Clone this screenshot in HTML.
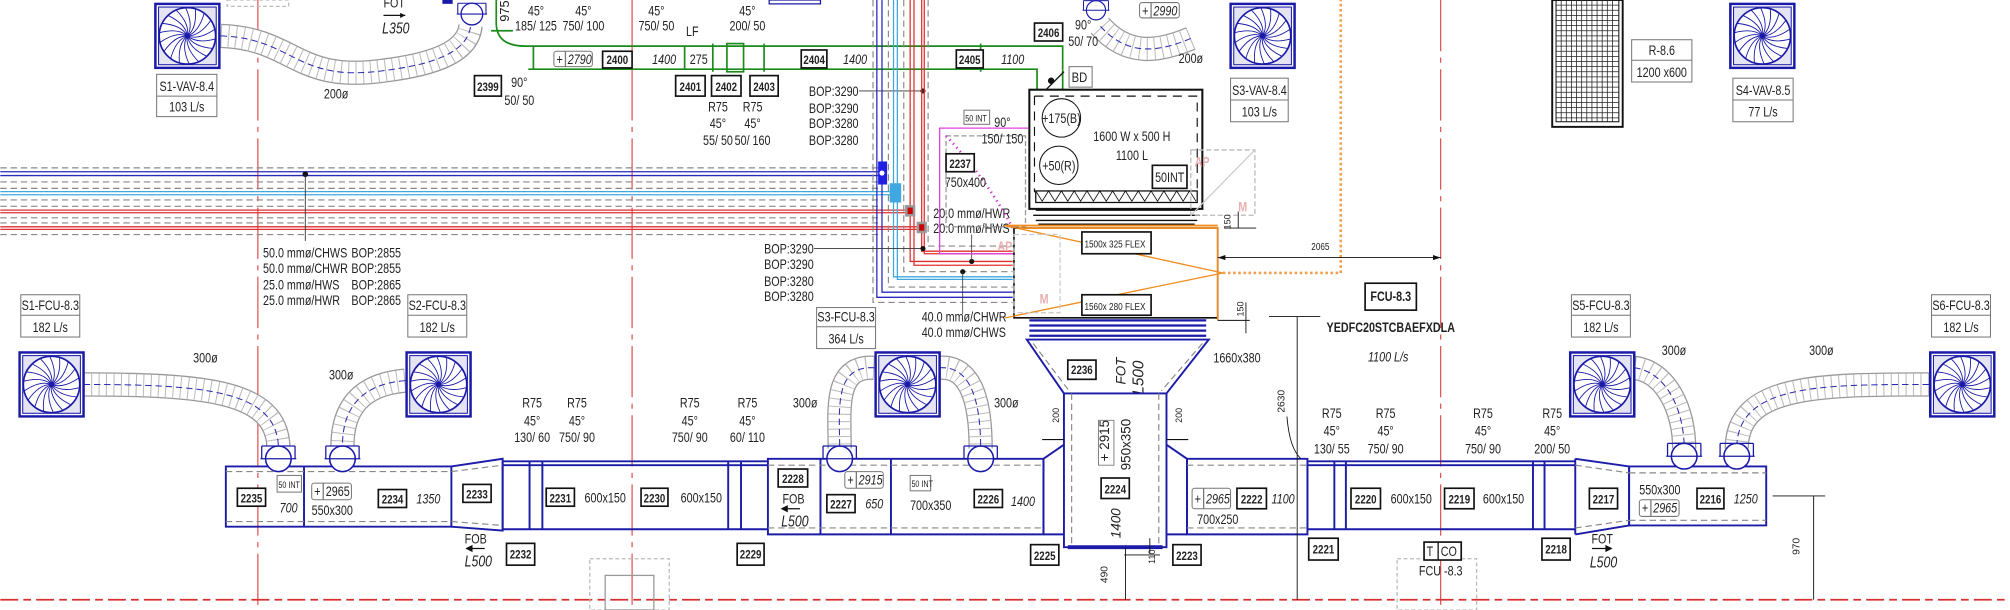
<!DOCTYPE html>
<html><head><meta charset="utf-8"><style>
html,body{margin:0;padding:0;background:#fff;overflow:hidden}
svg{display:block}
text{font-family:"Liberation Sans Narrow","Liberation Sans",sans-serif;font-size:10.5px;fill:#222}
text:not([transform]){transform-box:fill-box;transform-origin:left center;transform:scaleX(0.8)}
text.m:not([transform]),text.b:not([transform]){transform-origin:center center}
.b{font-weight:bold;font-size:9.5px;text-anchor:middle}
.m{text-anchor:middle}
.i{font-style:italic}
.bx{fill:#fff;stroke:#111;stroke-width:1.3}
.lb{fill:#fff;stroke:#777;stroke-width:0.8}
.d{stroke:#1c1ca8;stroke-width:1.5;fill:none}
.gd{stroke:#888;stroke-width:0.9;fill:none;stroke-dasharray:5 3}
.g{stroke:#1a8a1a;stroke-width:1.3;fill:none}
</style></head><body>
<svg width="2010" height="610" viewBox="0 0 1568 476" xmlns="http://www.w3.org/2000/svg">
<defs>
<symbol id="df" viewBox="0 0 52 52">
<rect x="1" y="1" width="50" height="50" fill="#fff" stroke="#1a1aa8" stroke-width="2"/>
<rect x="3.5" y="3.5" width="45" height="45" fill="#e4e4f2" stroke="#1a1aa8" stroke-width="0.8"/>
<circle cx="26" cy="26" r="22" fill="#fff" stroke="#1a1aa8" stroke-width="1.3"/>
<g stroke="#1a1aa8" stroke-width="0.7" fill="none" transform="translate(26,26)">
<path id="sp" d="M0,0 Q9,-3 13,-17.5"/>
<use href="#sp" transform="rotate(20)"/><use href="#sp" transform="rotate(40)"/><use href="#sp" transform="rotate(60)"/><use href="#sp" transform="rotate(80)"/><use href="#sp" transform="rotate(100)"/><use href="#sp" transform="rotate(120)"/><use href="#sp" transform="rotate(140)"/><use href="#sp" transform="rotate(160)"/><use href="#sp" transform="rotate(180)"/><use href="#sp" transform="rotate(200)"/><use href="#sp" transform="rotate(220)"/><use href="#sp" transform="rotate(240)"/><use href="#sp" transform="rotate(260)"/><use href="#sp" transform="rotate(280)"/><use href="#sp" transform="rotate(300)"/><use href="#sp" transform="rotate(320)"/><use href="#sp" transform="rotate(340)"/>
</g>
<circle cx="26" cy="26" r="2" fill="#1a1aa8"/>
</symbol>
<symbol id="vc" viewBox="0 0 32 26">
<circle cx="16" cy="13" r="10" fill="#fff" stroke="#1a1aa8" stroke-width="1.2"/>
<line x1="2" y1="13" x2="30" y2="13" stroke="#1a1aa8" stroke-width="1"/>
<line x1="3" y1="3" x2="29" y2="3" stroke="#1a1aa8" stroke-width="1"/>
<line x1="3" y1="3" x2="3" y2="13" stroke="#1a1aa8" stroke-width="1"/>
<line x1="29" y1="3" x2="29" y2="13" stroke="#1a1aa8" stroke-width="1"/>
</symbol>
</defs>

<g stroke="#d83030" stroke-width="0.8" stroke-dasharray="40 5 4 5">
<line x1="201" y1="0" x2="201" y2="476"/><line x1="493" y1="0" x2="493" y2="476"/><line x1="1124" y1="0" x2="1124" y2="476"/>
</g>
<line x1="0" y1="468" x2="1568" y2="468" stroke="#d83030" stroke-width="1.4" stroke-dasharray="14 4 6 4"/>

<g fill="none">
<g stroke="#999" stroke-width="19">
<path d="M172,28 C230,30 230,65 300,55 C340,50 365,40 367,20"/>
<path d="M929,30 C905,40 880,45 858,20"/>
<path d="M65,300 C160,300 215,305 217,348"/>
<path d="M316,297 C280,300 267,320 267,348"/>
<path d="M682,287 C650,285 655,320 655,350"/>
<path d="M733,287 C760,285 765,320 765,350"/>
<path d="M1275,287 C1300,290 1314,320 1314,350"/>
<path d="M1505,300 C1420,300 1355,300 1355,350"/>
</g>
<g stroke="#fff" stroke-width="17">
<path d="M172,28 C230,30 230,65 300,55 C340,50 365,40 367,20"/>
<path d="M929,30 C905,40 880,45 858,20"/>
<path d="M65,300 C160,300 215,305 217,348"/>
<path d="M316,297 C280,300 267,320 267,348"/>
<path d="M682,287 C650,285 655,320 655,350"/>
<path d="M733,287 C760,285 765,320 765,350"/>
<path d="M1275,287 C1300,290 1314,320 1314,350"/>
<path d="M1505,300 C1420,300 1355,300 1355,350"/>
</g>
<g stroke="#bbb" stroke-width="17" stroke-dasharray="0.8 5">
<path d="M172,28 C230,30 230,65 300,55 C340,50 365,40 367,20"/>
<path d="M929,30 C905,40 880,45 858,20"/>
<path d="M65,300 C160,300 215,305 217,348"/>
<path d="M316,297 C280,300 267,320 267,348"/>
<path d="M682,287 C650,285 655,320 655,350"/>
<path d="M733,287 C760,285 765,320 765,350"/>
<path d="M1275,287 C1300,290 1314,320 1314,350"/>
<path d="M1505,300 C1420,300 1355,300 1355,350"/>
</g>
<g stroke="#2a2ab0" stroke-width="0.8" stroke-dasharray="5 3">
<path d="M172,28 C230,30 230,65 300,55 C340,50 365,40 367,20"/>
<path d="M929,30 C905,40 880,45 858,20"/>
<path d="M65,300 C160,300 215,305 217,348"/>
<path d="M316,297 C280,300 267,320 267,348"/>
<path d="M682,287 C650,285 655,320 655,350"/>
<path d="M733,287 C760,285 765,320 765,350"/>
<path d="M1275,287 C1300,290 1314,320 1314,350"/>
<path d="M1505,300 C1420,300 1355,300 1355,350"/>
</g>
</g>

<use href="#df" x="120" y="2" width="52" height="52"/>
<use href="#df" x="959" y="2" width="52" height="52"/>
<use href="#df" x="1349" y="2" width="52" height="52"/>
<use href="#df" x="14" y="274" width="52" height="52"/>
<use href="#df" x="316" y="274" width="52" height="52"/>
<use href="#df" x="682" y="274" width="52" height="52"/>
<use href="#df" x="1224" y="274" width="52" height="52"/>
<use href="#df" x="1505" y="274" width="52" height="52"/>

<g>
<rect class="lb" x="122" y="58" width="47" height="33"/><line x1="122" y1="75" x2="169" y2="75" stroke="#777" stroke-width="0.8"/>
<text class="m" x="145.5" y="71">S1-VAV-8.4</text><text class="m" x="145.5" y="87">103 L/s</text>
<rect class="lb" x="960" y="61" width="45" height="34"/><line x1="960" y1="78" x2="1005" y2="78" stroke="#777" stroke-width="0.8"/>
<text class="m" x="982.5" y="74">S3-VAV-8.4</text><text class="m" x="982.5" y="91">103 L/s</text>
<rect class="lb" x="1352" y="61" width="47" height="34"/><line x1="1352" y1="78" x2="1399" y2="78" stroke="#777" stroke-width="0.8"/>
<text class="m" x="1375.5" y="74">S4-VAV-8.5</text><text class="m" x="1375.5" y="91">77 L/s</text>
<rect class="lb" x="1273" y="31" width="47" height="33"/><line x1="1273" y1="47" x2="1320" y2="47" stroke="#777" stroke-width="0.8"/>
<text class="m" x="1296.5" y="43">R-8.6</text><text class="m" x="1296.5" y="60">1200 x600</text>
<rect class="lb" x="16" y="230" width="46" height="33"/><line x1="16" y1="246" x2="62" y2="246" stroke="#777" stroke-width="0.8"/>
<text class="m" x="39" y="242">S1-FCU-8.3</text><text class="m" x="39" y="259">182 L/s</text>
<rect class="lb" x="318" y="230" width="46" height="33"/><line x1="318" y1="246" x2="364" y2="246" stroke="#777" stroke-width="0.8"/>
<text class="m" x="341" y="242">S2-FCU-8.3</text><text class="m" x="341" y="259">182 L/s</text>
<rect class="lb" x="637" y="240" width="46" height="32"/><line x1="637" y1="255" x2="683" y2="255" stroke="#777" stroke-width="0.8"/>
<text class="m" x="660" y="251">S3-FCU-8.3</text><text class="m" x="660" y="268">364 L/s</text>
<rect class="lb" x="1226" y="230" width="46" height="33"/><line x1="1226" y1="246" x2="1272" y2="246" stroke="#777" stroke-width="0.8"/>
<text class="m" x="1249" y="242">S5-FCU-8.3</text><text class="m" x="1249" y="259">182 L/s</text>
<rect class="lb" x="1507" y="230" width="46" height="33"/><line x1="1507" y1="246" x2="1553" y2="246" stroke="#777" stroke-width="0.8"/>
<text class="m" x="1530" y="242">S6-FCU-8.3</text><text class="m" x="1530" y="259">182 L/s</text>
</g>

<rect x="1211" y="0" width="55" height="99" fill="#fff" stroke="#111" stroke-width="1.5"/>
<rect x="1214" y="0" width="49" height="95" fill="none" stroke="#111" stroke-width="0.8"/>
<g stroke="#222" stroke-width="0.6">
<path d="M1214,4H1263M1214,8H1263M1214,12H1263M1214,16H1263M1214,20H1263M1214,24H1263M1214,28H1263M1214,32H1263M1214,36H1263M1214,40H1263M1214,44H1263M1214,48H1263M1214,52H1263M1214,56H1263M1214,60H1263M1214,64H1263M1214,68H1263M1214,72H1263M1214,76H1263M1214,80H1263M1214,84H1263M1214,88H1263M1214,92H1263"/>
<path d="M1218,0V95M1222,0V95M1226,0V95M1230,0V95M1234,0V95M1238,0V95M1242,0V95M1246,0V95M1250,0V95M1254,0V95M1258,0V95"/>
</g>

<rect x="177" y="0" width="48" height="5" fill="none" stroke="#bbb" stroke-dasharray="3 2"/>
<text x="299" y="6">FOT</text><path d="M299,12H316" stroke="#111"/><path d="M316,12l-4,-2v4z" fill="#111"/>
<text class="i" x="298" y="26" style="font-size:12px">L350</text>
<use href="#vc" x="352" y="0" width="32" height="22"/>
<rect x="345" y="0" width="8" height="3" fill="#1a1aa8"/>
<path d="M600,0l40,0l0,3l-40,0z" fill="none" stroke="#1a1aa8"/>
<use href="#vc" x="843" y="-2" width="24" height="20"/>
<rect class="lb" x="889" y="2" width="31" height="12" rx="2"/><line x1="898" y1="2" x2="898" y2="14" stroke="#777"/>
<text x="891" y="12">+</text><text class="i" x="900" y="12">2990</text>
<text class="m" x="262" y="77">200ø</text><text class="m" x="929" y="49">200ø</text>

<g class="g">
<path d="M387,0V18Q387,36 410,36H829V54"/>
<path d="M412,54H809V70"/>
<path d="M383,24H400"/>
<path d="M416,36V54M534,36V54M556,34V56M596,34V56M765,34V56"/>
<rect x="567" y="34" width="13" height="22"/>
<path d="M809,70H829V54"/>
</g>
<path d="M812,74L830,56" stroke="#111"/><circle cx="820" cy="63" r="2.5" fill="#111"/>
<rect class="lb" x="834" y="52" width="18" height="16"/><text x="836" y="64" style="font-size:11px">BD</text>
<text x="397" y="17" transform="rotate(-90 397 17)" style="font-size:10px">975</text>
<text class="m" x="418" y="12">45°</text><text class="m" x="418" y="24">185/ 125</text>
<text class="m" x="455" y="12">45°</text><text class="m" x="455" y="24">750/ 100</text>
<text class="m" x="512" y="12">45°</text><text class="m" x="512" y="24">750/ 50</text>
<text class="m" x="540" y="28">LF</text>
<text class="m" x="583" y="12">45°</text><text class="m" x="583" y="24">200/ 50</text>
<rect class="lb" x="432" y="40" width="30" height="12" rx="2"/><line x1="441" y1="40" x2="441" y2="52" stroke="#777"/>
<text x="434" y="50">+</text><text class="i" x="443" y="50">2790</text>
<rect class="bx" x="470" y="40" width="23" height="13"/><text class="b" x="481.5" y="50">2400</text>
<text class="i m" x="518" y="50">1400</text><text class="m" x="545" y="50">275</text>
<rect class="bx" x="625" y="39" width="20" height="14"/><text class="b" x="635" y="50">2404</text>
<text class="i m" x="667" y="50">1400</text>
<rect class="bx" x="746" y="39" width="21" height="14"/><text class="b" x="756.5" y="50">2405</text>
<text class="i m" x="790" y="50">1100</text>
<rect class="bx" x="807" y="18" width="22" height="14"/><text class="b" x="818" y="29">2406</text>
<text class="m" x="845" y="23">90°</text><text class="m" x="845" y="36">50/ 70</text>
<rect class="bx" x="370" y="59" width="21" height="16"/><text class="b" x="380.5" y="71">2399</text>
<text class="m" x="405" y="68">90°</text><text class="m" x="405" y="82">50/ 50</text>
<rect class="bx" x="527" y="59" width="23" height="16"/><text class="b" x="538.5" y="71">2401</text>
<rect class="bx" x="555" y="59" width="23" height="16"/><text class="b" x="566.5" y="71">2402</text>
<rect class="bx" x="585" y="59" width="22" height="16"/><text class="b" x="596" y="71">2403</text>
<text class="m" x="560" y="87">R75</text><text class="m" x="560" y="100">45°</text><text class="m" x="560" y="113">55/ 50</text>
<text class="m" x="587" y="87">R75</text><text class="m" x="587" y="100">45°</text><text class="m" x="587" y="113">50/ 160</text>
<text x="631" y="75">BOP:3290</text><text x="631" y="88">BOP:3290</text><text x="631" y="100">BOP:3280</text><text x="631" y="113">BOP:3280</text>
<line x1="670" y1="71" x2="720" y2="71" stroke="#333" stroke-width="0.7"/><circle cx="720" cy="71" r="2" fill="#111"/>

<g fill="none">
<g class="gd" stroke="#999"><path d="M0,131H686M0,142H686M0,147H686M0,156H686M0,161H686M0,170H686M0,174H686M0,183H686"/></g>
<path d="M0,134H686M0,137H686" stroke="#2a2ac0" stroke-width="1"/>
<path d="M0,149.5H696M0,152H696" stroke="#40a8e0" stroke-width="1"/>
<path d="M0,164H708M0,166H708M0,177H716M0,179H716" stroke="#e03030" stroke-width="1"/>
<path d="M684,0V232H790M688,0V228H790" stroke="#2a2ac0" stroke-width="1"/>
<path d="M697,0V216H790M700,0V218H790" stroke="#40a8e0" stroke-width="1"/>
<path d="M710,0V204H790M713,0V207H790M719,0V196H790M721,0V198H790" stroke="#e03030" stroke-width="1"/>
<path d="M681,0V236H790M693,0V224H790M705,0V212H790M724,0V192H790" class="gd"/>
</g>
<rect x="685" y="126" width="7" height="18" fill="#2020e0"/><circle cx="688" cy="135" r="2" fill="#fff"/>
<rect x="694" y="143" width="9" height="15" fill="#40a8e0"/>
<rect x="706" y="160" width="8" height="9" fill="#999"/><rect x="708" y="162" width="4" height="5" fill="#c00"/>
<rect x="715" y="173" width="8" height="9" fill="#999"/><rect x="717" y="175" width="4" height="5" fill="#c00"/>
<circle cx="238" cy="136" r="2.2" fill="#111"/><line x1="238" y1="136" x2="238" y2="188" stroke="#333" stroke-width="0.7"/>
<text x="205" y="201">50.0 mmø/CHWS</text><text x="274" y="201">BOP:2855</text>
<text x="205" y="213">50.0 mmø/CHWR</text><text x="274" y="213">BOP:2855</text>
<text x="205" y="226">25.0 mmø/HWS</text><text x="274" y="226">BOP:2865</text>
<text x="205" y="238">25.0 mmø/HWR</text><text x="274" y="238">BOP:2865</text>
<text x="596" y="198">BOP:3290</text><text x="596" y="210">BOP:3290</text><text x="596" y="223">BOP:3280</text><text x="596" y="235">BOP:3280</text>
<line x1="635" y1="194" x2="720" y2="194" stroke="#333" stroke-width="0.7"/><circle cx="720" cy="194" r="2" fill="#111"/>
<circle cx="758" cy="204" r="2" fill="#111"/><line x1="758" y1="204" x2="758" y2="183" stroke="#333" stroke-width="0.6"/>
<circle cx="751" cy="212" r="2" fill="#111"/><line x1="751" y1="212" x2="751" y2="245" stroke="#333" stroke-width="0.6"/>
<text x="728" y="170">20.0 mmø/HWR</text><text x="728" y="182">20.0 mmø/HWS</text>
<text x="719" y="251">40.0 mmø/CHWR</text><text x="719" y="263">40.0 mmø/CHWS</text>

<path d="M802,100H733V198H794V183H802" fill="none" stroke="#e040e0" stroke-width="1"/>
<path d="M738,106H800V177H738Z" fill="none" stroke="#999" stroke-dasharray="4 2"/>
<path d="M738,106Q770,140 790,178" fill="none" stroke="#d030d0" stroke-width="2" stroke-dasharray="1 3"/>
<rect class="lb" x="752" y="86" width="20" height="11"/><text x="753" y="95" style="font-size:7px">50 INT</text>
<text class="m" x="782" y="99">90°</text><text class="m" x="782" y="112">150/ 150</text>
<rect class="bx" x="738" y="120" width="22" height="14"/><text class="b" x="749" y="131">2237</text>
<text x="737" y="146">750x400</text>

<rect x="803" y="70" width="135" height="93" fill="#fff" stroke="#111" stroke-width="1.6"/>
<path d="M807,75H934V150M807,75V150" fill="none" stroke="#111" stroke-dasharray="7 5" stroke-width="0.9"/>
<circle cx="828" cy="92" r="15" fill="#fff" stroke="#111" stroke-width="0.8"/><text class="m" x="828" y="96">+175(B)</text>
<circle cx="826" cy="129" r="15" fill="#fff" stroke="#111" stroke-width="0.8"/><text class="m" x="826" y="133">+50(R)</text>
<text class="m" x="883" y="110">1600 W x 500 H</text><text class="m" x="883" y="125">1100 L</text>
<rect class="bx" x="899" y="129" width="27" height="18"/><text class="m" x="912.5" y="142">50INT</text>
<rect x="808" y="149" width="126" height="9" fill="none" stroke="#111"/>
<path d="M808,149l5,8l5,-8l5,8l5,-8l5,8l5,-8l5,8l5,-8l5,8l5,-8l5,8l5,-8l5,8l5,-8l5,8l5,-8l5,8l5,-8l5,8l5,-8l5,8l5,-8l5,8l5,-8l5,8" fill="none" stroke="#111" stroke-width="0.7"/>
<path d="M808,164H934M806,168H936M808,172H934M810,175H932" stroke="#111" stroke-width="1.1"/>
<path d="M784,176H950" stroke="#f08c1c" stroke-width="1.5"/>
<rect x="791" y="178" width="159" height="70" fill="#fff" stroke="#111" stroke-width="1.3"/>
<path d="M794,178H950V250" fill="none" stroke="#f08c1c" stroke-width="1.3"/>
<path d="M784,176L954,213M784,248L954,213" stroke="#f08c1c" stroke-width="1"/>
<path d="M954,213H1046V0" stroke="#f0a050" stroke-width="2" stroke-dasharray="2 2" fill="none"/>
<rect class="bx" x="844" y="181" width="54" height="17"/><text x="846" y="193" style="font-size:8px">1500x 325 FLEX</text>
<rect class="bx" x="844" y="230" width="54" height="16"/><text x="846" y="242" style="font-size:8px">1560x 280 FLEX</text>
<rect x="929" y="117" width="50" height="51" fill="none" stroke="#bbb" stroke-dasharray="4 2"/><line x1="929" y1="168" x2="979" y2="117" stroke="#ccc"/>
<text x="932" y="130" style="fill:#e8b0b0;font-weight:bold">AP</text><text x="966" y="165" style="fill:#e8b0b0;font-weight:bold">M</text>
<rect x="791" y="183" width="36" height="61" fill="none" stroke="#ccc" stroke-dasharray="4 2"/><text x="811" y="237" style="fill:#e8b0b0;font-weight:bold">M</text><text x="778" y="196" style="fill:#e8b0b0;font-weight:bold">AP</text>
<text x="960" y="179" transform="rotate(-90 960 179)" style="font-size:7px">150</text>
<path d="M955,178H980M966,165V178" stroke="#111" stroke-width="0.7"/>
<text x="1023" y="195" style="font-size:8px">2065</text>
<path d="M950,201H1124" stroke="#111" stroke-width="0.7" fill="none"/>
<path d="M950,201l6,-2v4zM1124,201l-6,-2v4z" fill="#111"/>
<text x="970" y="247" transform="rotate(-90 970 247)" style="font-size:7px">150</text>
<path d="M950,250H975M972,236V260" stroke="#111" stroke-width="0.7"/>

<rect class="bx" x="1065" y="221" width="40" height="21"/><text class="m" x="1085" y="235" style="font-weight:bold">FCU-8.3</text>
<text class="m" x="1085" y="259" style="font-weight:bold">YEDFC20STCBAEFXDLA</text>
<text class="m i" x="1083" y="282">1100 L/s</text>
<text class="m" x="965" y="283">1660x380</text>

<path d="M803,250H941M803,254H941M803,258H941M803,262H941" stroke="#1c1ca8" stroke-width="1.8"/>
<path d="M801,265H943L910,307H830Z" fill="#fff" stroke="#1c1ca8" stroke-width="1.5"/>
<path d="M806,268L834,305M938,268L906,305" class="gd"/>
<rect class="bx" x="833" y="281" width="22" height="15"/><text class="b" x="844" y="292">2236</text>
<text x="878" y="300" transform="rotate(-90 878 300)" class="i">FOT</text>
<text x="892" y="308" transform="rotate(-90 892 308)" class="i" style="font-size:12px">L500</text>
<rect x="830" y="307" width="80" height="120" fill="#fff" stroke="#1c1ca8" stroke-width="1.5"/>
<path d="M836,307V424M904,307V424" class="gd"/>
<path d="M833,427H907" stroke="#1c1ca8" stroke-width="3"/>
<text x="865" y="360" transform="rotate(-90 865 360)">+ 2915</text>
<rect x="857" y="328" width="12" height="35" fill="none" stroke="#777" stroke-width="0.7"/>
<text x="882" y="367" transform="rotate(-90 882 367)">950x350</text>
<rect class="bx" x="859" y="373" width="22" height="16"/><text class="b" x="870" y="385">2224</text>
<text x="874" y="420" transform="rotate(-90 874 420)" class="i">1400</text>
<text x="826" y="330" transform="rotate(-90 826 330)" style="font-size:7px">200</text>
<text x="922" y="330" transform="rotate(-90 922 330)" style="font-size:7px">200</text>
<path d="M813,343H830M910,343H927" stroke="#111" stroke-width="0.8"/>

<g class="d">
<path d="M176,364H352V411H176Z"/><path d="M237,364V411"/>
<path d="M352,364L392,358V414L352,411"/>
<path d="M392,360H599M392,363H599M392,413H599M392,360V413M413,360V413M423,360V413M568,360V413M578,360V413"/>
<path d="M599,358H814V417H599ZM640,358V417M695,358V417"/>
<path d="M814,358V417M814,358L830,347M814,417L830,417"/>
<path d="M910,347L926,358V417M910,417H926"/>
<path d="M926,358H1020V417H926Z"/>
<path d="M1020,360H1229M1020,363H1229M1020,413H1229M1020,360V413M1041,360V413M1050,360V413M1196,360V413M1205,360V413M1229,358V417"/>
<path d="M1229,358L1271,364V410L1229,417"/>
<path d="M1271,364H1378V410H1271Z"/>
</g>
<g class="gd">
<path d="M176,368H352M176,407H352M352,368L392,363M352,407L392,410"/>
<path d="M599,363H814M599,412H814M926,363H1020M926,412H1020"/>
<path d="M1229,363L1271,369M1229,412L1271,406M1271,369H1378M1271,406H1378"/>
</g>
<use href="#vc" x="201" y="345" width="32" height="26"/><use href="#vc" x="251" y="345" width="32" height="26"/>
<use href="#vc" x="639" y="345" width="32" height="26"/><use href="#vc" x="749" y="345" width="32" height="26"/>
<use href="#vc" x="1298" y="343" width="32" height="26"/><use href="#vc" x="1339" y="343" width="32" height="26"/>

<text class="m" x="160" y="283">300ø</text><text class="m" x="266" y="296">300ø</text>
<text class="m" x="628" y="318">300ø</text><text class="m" x="785" y="318">300ø</text>
<text class="m" x="1306" y="277">300ø</text><text class="m" x="1421" y="277">300ø</text>

<rect class="bx" x="185" y="381" width="22" height="14"/><text class="b" x="196" y="392">2235</text>
<rect class="lb" x="216" y="371" width="19" height="13"/><text x="217" y="381" style="font-size:7px">50 INT</text>
<text class="m i" x="225" y="400">700</text>
<rect class="lb" x="243" y="377" width="31" height="13" rx="2"/><line x1="252" y1="377" x2="252" y2="390" stroke="#777"/><text x="245" y="387">+</text><text x="254" y="387">2965</text>
<text class="m" x="259" y="402">550x300</text>
<rect class="bx" x="295" y="382" width="22" height="14"/><text class="b" x="306" y="393">2234</text>
<text class="m i" x="334" y="393">1350</text>
<rect class="bx" x="361" y="378" width="22" height="14"/><text class="b" x="372" y="389">2233</text>
<rect class="bx" x="426" y="381" width="22" height="14"/><text class="b" x="437" y="392">2231</text><text class="m" x="472" y="392">600x150</text>
<rect class="bx" x="500" y="381" width="21" height="14"/><text class="b" x="510.5" y="392">2230</text><text class="m" x="547" y="392">600x150</text>
<rect class="bx" x="607" y="366" width="23" height="14"/><text class="b" x="618.5" y="377">2228</text>
<text class="m" x="619" y="393">FOB</text><path d="M610,397H624M610,397l4,-2v4z" stroke="#111" fill="#111"/><text class="m i" x="620" y="411" style="font-size:12px">L500</text>
<rect class="lb" x="659" y="368" width="30" height="13" rx="2"/><line x1="668" y1="368" x2="668" y2="381" stroke="#777"/><text x="661" y="378">+</text><text class="i" x="670" y="378">2915</text>
<rect class="bx" x="645" y="386" width="22" height="14"/><text class="b" x="656" y="397">2227</text><text class="m i" x="682" y="397">650</text>
<rect class="lb" x="710" y="371" width="16" height="12"/><text x="711" y="380" style="font-size:7px">50 INT</text>
<text class="m" x="726" y="398">700x350</text>
<rect class="bx" x="760" y="382" width="22" height="14"/><text class="b" x="771" y="393">2226</text><text class="m i" x="798" y="395">1400</text>
<text class="m" x="415" y="318">R75</text><text class="m" x="415" y="332">45°</text><text class="m" x="415" y="345">130/ 60</text>
<text class="m" x="450" y="318">R75</text><text class="m" x="450" y="332">45°</text><text class="m" x="450" y="345">750/ 90</text>
<text class="m" x="538" y="318">R75</text><text class="m" x="538" y="332">45°</text><text class="m" x="538" y="345">750/ 90</text>
<text class="m" x="583" y="318">R75</text><text class="m" x="583" y="332">45°</text><text class="m" x="583" y="345">60/ 110</text>
<text class="m" x="371" y="424">FOB</text><path d="M364,428H378M364,428l4,-2v4z" stroke="#111" fill="#111"/><text class="m i" x="373" y="442" style="font-size:12px">L500</text>
<rect class="bx" x="395" y="424" width="22" height="17"/><text class="b" x="406" y="436">2232</text>
<rect class="bx" x="575" y="424" width="21" height="17"/><text class="b" x="585.5" y="436">2229</text>
<rect x="460" y="436" width="62" height="40" fill="none" stroke="#bbb" stroke-dasharray="3 2"/><rect x="472" y="449" width="38" height="27" fill="none" stroke="#999"/>

<rect class="bx" x="804" y="425" width="22" height="16"/><text class="b" x="815" y="437">2225</text>
<rect class="bx" x="915" y="425" width="22" height="16"/><text class="b" x="926" y="437">2223</text>
<text x="901" y="440" transform="rotate(-90 901 440)" style="font-size:7px">110</text>
<path d="M897,420V432M877,433H905" stroke="#111" stroke-width="0.7"/>
<text x="864" y="455" transform="rotate(-90 864 455)" style="font-size:8px">490</text>
<path d="M878,427V468" stroke="#111" stroke-width="0.7"/>
<text x="1002" y="322" transform="rotate(-90 1002 322)" style="font-size:8px">2630</text>
<path d="M1012,247V468M990,247H1030M1004,325Q1006,350 1015,358" stroke="#111" stroke-width="0.7" fill="none"/>
<rect class="lb" x="930" y="381" width="30" height="16" rx="2"/><line x1="939" y1="381" x2="939" y2="397" stroke="#777"/><text x="932" y="393">+</text><text class="i" x="941" y="393">2965</text>
<rect class="bx" x="965" y="381" width="23" height="16"/><text class="b" x="976.5" y="393">2222</text><text class="i m" x="1001" y="393">1100</text>
<text class="m" x="950" y="409">700x250</text>
<text class="m" x="1039" y="326">R75</text><text class="m" x="1039" y="340">45°</text><text class="m" x="1039" y="354">130/ 55</text>
<text class="m" x="1081" y="326">R75</text><text class="m" x="1081" y="340">45°</text><text class="m" x="1081" y="354">750/ 90</text>
<text class="m" x="1157" y="326">R75</text><text class="m" x="1157" y="340">45°</text><text class="m" x="1157" y="354">750/ 90</text>
<text class="m" x="1211" y="326">R75</text><text class="m" x="1211" y="340">45°</text><text class="m" x="1211" y="354">200/ 50</text>
<rect class="bx" x="1054" y="381" width="23" height="16"/><text class="b" x="1065.5" y="393">2220</text><text class="m" x="1101" y="393">600x150</text>
<rect class="bx" x="1127" y="381" width="23" height="16"/><text class="b" x="1138.5" y="393">2219</text><text class="m" x="1173" y="393">600x150</text>
<rect class="bx" x="1240" y="381" width="22" height="16"/><text class="b" x="1251" y="393">2217</text>
<text class="m" x="1295" y="386">550x300</text>
<rect class="lb" x="1279" y="390" width="31" height="13" rx="2"/><line x1="1288" y1="390" x2="1288" y2="403" stroke="#777"/><text x="1281" y="400">+</text><text class="i" x="1290" y="400">2965</text>
<rect class="bx" x="1324" y="381" width="21" height="16"/><text class="b" x="1334.5" y="393">2216</text><text class="i m" x="1362" y="393">1250</text>
<rect class="bx" x="1021" y="420" width="23" height="17"/><text class="b" x="1032.5" y="432">2221</text>
<rect class="bx" x="1203" y="420" width="22" height="17"/><text class="b" x="1214" y="432">2218</text>
<text class="m" x="1250" y="424">FOT</text><path d="M1242,428H1257M1257,428l-4,-2v4z" stroke="#111" fill="#111"/><text class="m i" x="1251" y="443" style="font-size:12px">L500</text>
<rect x="1090" y="436" width="62" height="40" fill="none" stroke="#bbb" stroke-dasharray="3 2"/>
<rect class="bx" x="1111" y="423" width="29" height="14"/><line x1="1122" y1="423" x2="1122" y2="437" stroke="#111"/>
<text x="1113" y="434">T</text><text x="1124" y="434">CO</text>
<text class="m" x="1124" y="449">FCU -8.3</text>
<text x="1404" y="433" transform="rotate(-90 1404 433)" style="font-size:8px">970</text>
<path d="M1383,387H1424M1415,387V468" stroke="#111" stroke-width="0.7"/>
</svg>
</body></html>
